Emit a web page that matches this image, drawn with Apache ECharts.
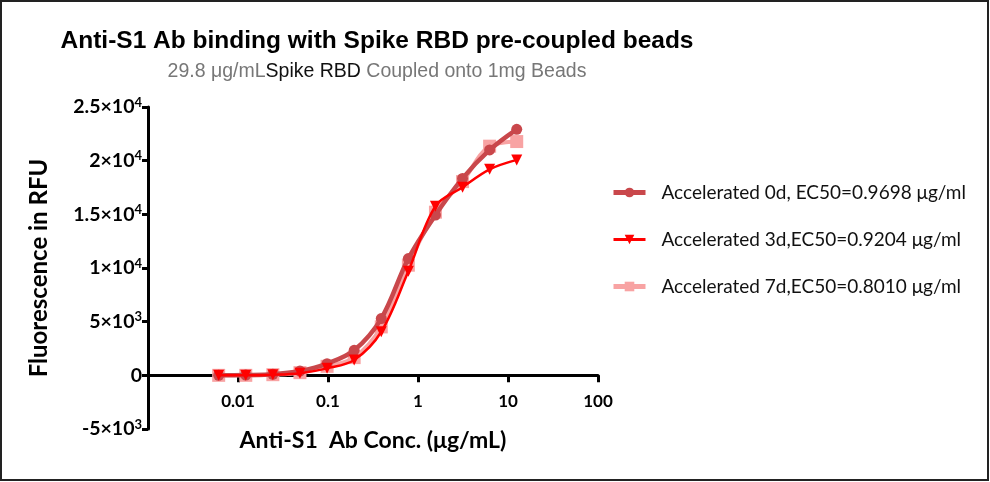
<!DOCTYPE html>
<html>
<head>
<meta charset="utf-8">
<script src="https://cdn.jsdelivr.net/npm/echarts@6/dist/echarts.min.js"></script>
<style>html,body{margin:0;padding:0;background:#fff}#c{width:990px;height:482px}</style>
</head>
<body>
<div id="c"></div>
<script>
// Concentrations (µg/mL), 2-fold dilution series
const concs = [0.0061, 0.0122, 0.0244, 0.0488, 0.0977, 0.1953, 0.3906, 0.7813, 1.5625, 3.125, 6.25, 12.5];
// Fluorescence (RFU) per series
const acc0d = [0, 20, 90, 400, 1090, 2330, 5290, 10880, 14930, 18350, 21000, 22920];
const acc3d = [0, 0, 50, 200, 650, 1430, 4060, 9700, 15760, 17520, 19190, 20070];
const acc7d = [0, 0, 60, 250, 840, 1650, 4510, 10260, 15200, 18050, 21350, 21780];
const seriesNames = [
  'Accelerated 0d, EC50=0.9698 μg/ml',
  'Accelerated 3d,EC50=0.9204 μg/ml',
  'Accelerated 7d,EC50=0.8010 μg/ml'
];
// Tick labels
const xTickLabels = ['', '0.01', '0.1', '1', '10', '100']; // 10^-3 .. 10^2
const yTickValues = [-5000, 0, 5000, 10000, 15000, 20000, 25000];
const yTickLabels = ['-5×10{sup|3}', '0', '5×10{sup|3}', '1×10{sup|4}', '1.5×10{sup|4}', '2×10{sup|4}', '2.5×10{sup|4}'];

const pairs = arr => concs.map((c, i) => [c, arr[i]]);
const chart = echarts.init(document.getElementById('c'), null, {renderer: 'canvas'});
const lbFont = 'Lato, "Open Sans", sans-serif';
const narrow = '"Liberation Sans Narrow", "Liberation Sans", sans-serif';
const regular = '"Liberation Sans", Arial, sans-serif';
const gridTop = 107, gridBottom = 53, H = 482;
const gridH = H - gridTop - gridBottom;
chart.setOption({
  backgroundColor: '#fff',
  animation: false,
  title: [{
    text: 'Anti-S1 Ab binding with Spike RBD pre-coupled beads',
    left: 372, top: 24, textAlign: 'center',
    textStyle: {fontFamily: narrow, fontWeight: 'bold', fontSize: 24.5, color: '#000'}
  }, {
    text: '{g|29.8 μg/mL}{k|Spike RBD}{g| Coupled onto 1mg Beads}',
    left: 372, top: 57, textAlign: 'center',
    textStyle: {
      fontWeight: 'normal',
      rich: {
        g: {fontFamily: regular, fontWeight: 'normal', fontSize: 19.5, color: '#777'},
        k: {fontFamily: regular, fontWeight: 'normal', fontSize: 19.5, color: '#111'}
      }
    }
  }],
  grid: {left: 148, right: 392, top: gridTop, bottom: gridBottom, containLabel: false, outerBoundsMode: 'none'},
  legend: {
    orient: 'vertical', left: 611, top: 183, itemGap: 28, padding: 0,
    itemWidth: 32, itemHeight: 12,
    data: [
      {name: seriesNames[0], lineStyle: {width: 5}},
      {name: seriesNames[1], lineStyle: {width: 3}},
      {name: seriesNames[2], lineStyle: {width: 5}}
    ],
    textStyle: {fontFamily: lbFont, fontSize: 19, color: '#111', padding: [0, 0, 0, 11]}
  },
  xAxis: {
    type: 'log', logBase: 10, min: 0.001, max: 100,
    offset: -gridH / 6,
    name: 'Anti-S1  Ab Conc. (μg/mL)', nameLocation: 'middle', nameGap: 54,
    nameTextStyle: {fontFamily: lbFont, fontWeight: 'bold', fontSize: 23, color: '#000'},
    axisLine: {show: true, onZero: false, lineStyle: {color: '#000', width: 3}},
    axisTick: {show: true, length: 7, lineStyle: {color: '#000', width: 3}},
    splitLine: {show: false},
    axisLabel: {
      margin: 18, color: '#000', fontFamily: lbFont, fontWeight: 'bold', fontSize: 17,
      formatter: v => xTickLabels[Math.round(Math.log10(v)) + 3] || ''
    }
  },
  yAxis: {
    type: 'value', min: -5000, max: 25000, interval: 5000,
    name: 'Fluorescence in RFU', nameLocation: 'middle', nameGap: 97,
    nameTextStyle: {fontFamily: lbFont, fontWeight: 'bold', fontSize: 24, color: '#000'},
    axisLine: {show: true, lineStyle: {color: '#000', width: 3}},
    axisTick: {show: true, length: 6, lineStyle: {color: '#000', width: 3}},
    splitLine: {show: false},
    axisLabel: {
      margin: 6, color: '#000', fontFamily: lbFont, fontWeight: 'bold', fontSize: 19.5, lineHeight: 22,
      formatter: v => { const i = yTickValues.indexOf(v); return i >= 0 ? yTickLabels[i] : ''; },
      rich: {sup: {fontFamily: lbFont, fontWeight: 'bold', fontSize: 13, lineHeight: 12, verticalAlign: 'top', color: '#000'}}
    }
  },
  series: [{
    name: seriesNames[0], type: 'line', data: pairs(acc0d), smooth: 0.35, z: 3,
    symbol: 'circle', symbolSize: 11,
    lineStyle: {color: '#c9474b', width: 4.5}, itemStyle: {color: '#c9474b'}
  }, {
    name: seriesNames[1], type: 'line', data: pairs(acc3d), smooth: 0.35, z: 4,
    symbol: 'triangle', symbolRotate: 180, symbolSize: 11,
    lineStyle: {color: '#ff0000', width: 2.5}, itemStyle: {color: '#ff0000'}
  }, {
    name: seriesNames[2], type: 'line', data: pairs(acc7d), smooth: 0.35, z: 2,
    symbol: 'rect', symbolSize: 13,
    lineStyle: {color: '#f8a3a3', width: 4}, itemStyle: {color: '#f8a3a3'}
  }],
  graphic: [{
    type: 'rect', z: 100, silent: true,
    shape: {x: 1, y: 1, width: 987, height: 479},
    style: {fill: 'none', stroke: '#222', lineWidth: 2}
  }]
});
</script>
</body>
</html>
